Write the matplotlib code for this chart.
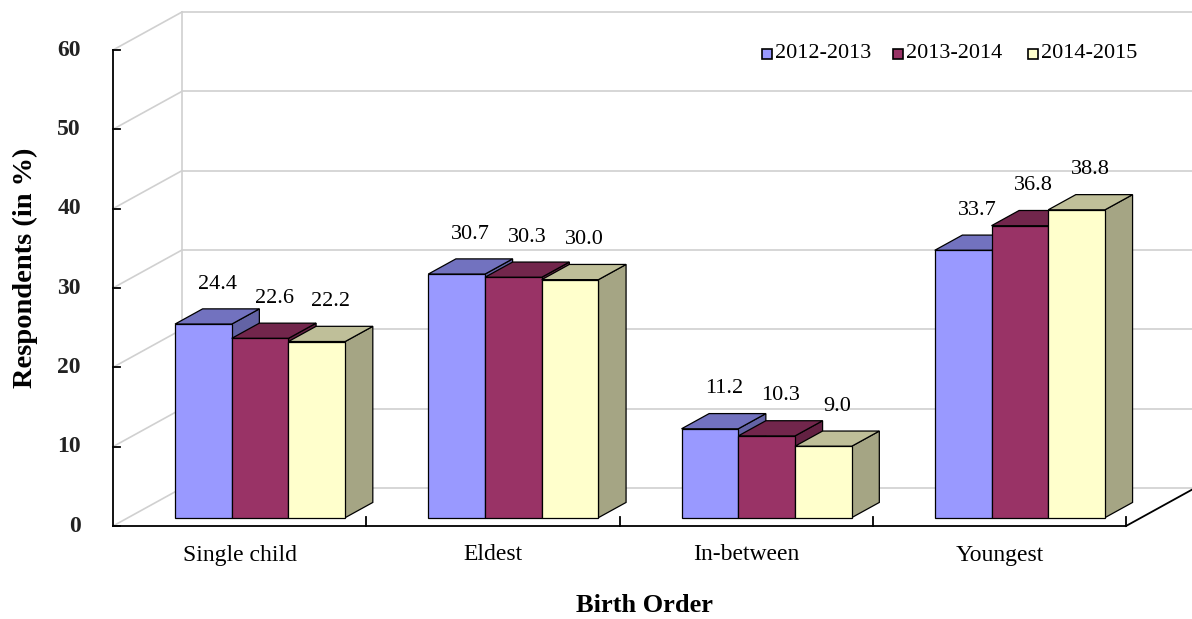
import matplotlib.pyplot as plt
from matplotlib.patches import Polygon, Rectangle

# --- Data ---
categories = ["Single child", "Eldest", "In-between", "Youngest"]
series = ["2012-2013", "2013-2014", "2014-2015"]
v_2012 = [24.4, 30.7, 11.2, 33.7]
v_2013 = [22.6, 30.3, 10.3, 36.8]
v_2014 = [22.2, 30.0, 9.0, 38.8]
yticks = [0, 10, 20, 30, 40, 50, 60]

values = [v_2012, v_2013, v_2014]
colors = ["#9999FF", "#993366", "#FFFFCC"]

# --- Style ---
plt.rcParams["font.family"] = ["Liberation Serif", "DejaVu Serif"]

W, H = 1192, 619
fig = plt.figure(figsize=(W / 100, H / 100), dpi=100)
ax = fig.add_axes([0, 0, 1, 1])

# pixel anchors of the front plane: x 0..4 -> 113..1126, y 0..60 -> 526..50
px_x = (1126 - 113) / 4.0
px_y = (526 - 50) / 60.0
ax.set_xlim(-113 / px_x, (W - 113) / px_x)
ax.set_ylim(-(H - 526) / px_y, 526 / px_y)
ax.axis("off")

# depth offset (full box depth)
DX = 69 / px_x
DY = 38 / px_y
ymax = yticks[-1]
ncat = len(categories)


def proj(x, y, d):
    return (x + d * DX, y + d * DY)


def shade(c, f):
    r, g, b = [int(c[i:i + 2], 16) for i in (1, 3, 5)]
    return "#%02x%02x%02x" % (int(r * f), int(g * f), int(b * f))


grid_c = "#d0d0d0"
# back wall and side wall gridlines
for t in yticks:
    ax.plot([DX, ncat + DX + 1], [t + DY, t + DY], color=grid_c, lw=1.2, zorder=1)
    ax.plot([0, DX], [t, t + DY], color=grid_c, lw=1.2, zorder=1)
ax.plot([DX, DX], [DY, ymax + DY], color=grid_c, lw=1.2, zorder=1)

# axes lines
ax.plot([0, 0], [0, ymax], color="black", lw=1.3, zorder=2)
ax.plot([0, ncat], [0, 0], color="black", lw=1.3, zorder=2)
ax.plot([ncat, ncat + DX], [0, DY], color="black", lw=1.3, zorder=2)
for t in yticks:
    ax.plot([0, 7 / px_x], [t, t], color="black", lw=1.3, zorder=2)
    ax.text(-32 / px_x, t, str(t), ha="right", va="center",
            fontsize=17, fontweight="bold", color="#222222")
for i in range(1, ncat + 1):
    ax.plot([i, i], [0, 9 / px_y], color="black", lw=1.3, zorder=2)

# --- 3D bars ---
d0, d1 = 0.22, 0.62
bw = 0.224
z = 3
for i in range(ncat):
    for j in range(len(series)):
        v = values[j][i]
        x0 = i + 0.185 + j * bw
        x1 = x0 + bw
        c = colors[j]
        front = [proj(x0, 0, d0), proj(x1, 0, d0), proj(x1, v, d0), proj(x0, v, d0)]
        top = [proj(x0, v, d0), proj(x1, v, d0), proj(x1, v, d1), proj(x0, v, d1)]
        side = [proj(x1, 0, d0), proj(x1, 0, d1), proj(x1, v, d1), proj(x1, v, d0)]
        for pts, col in [(side, shade(c, 0.65)), (top, shade(c, 0.75)), (front, c)]:
            ax.add_patch(Polygon(pts, closed=True, facecolor=col,
                                 edgecolor="black", lw=0.9, zorder=z))
        z += 1
        lx, ly = proj(x0 + bw / 2, v, d0)
        ax.text(lx + 14 / px_x, ly + 40 / px_y, f"{v:.1f}", ha="center",
                va="center", fontsize=16, zorder=50)

# category labels
for i, cat in enumerate(categories):
    ax.text(i + 0.5, -(555 - 526) / px_y, cat, ha="center", va="center", fontsize=17)

ax.text(2.1, -(605 - 526) / px_y, "Birth Order", ha="center", va="center",
        fontsize=19, fontweight="bold")
ax.text(-88 / px_x, (526 - 268) / px_y, "Respondents (in %)", rotation=90,
        ha="center", va="center", fontsize=20.5, fontweight="bold")

# legend
leg_x = [762, 893, 1028]
for k, name in enumerate(series):
    xs = (leg_x[k] - 113) / px_x
    ax.add_patch(Rectangle((xs, (526 - 59) / px_y), 10 / px_x, 10 / px_y,
                           facecolor=colors[k], edgecolor="black", lw=1.2, zorder=60))
    ax.text(xs + 13 / px_x, (526 - 53) / px_y, name, ha="left", va="center",
            fontsize=16, zorder=60)

fig.savefig("out.png", dpi=100)
